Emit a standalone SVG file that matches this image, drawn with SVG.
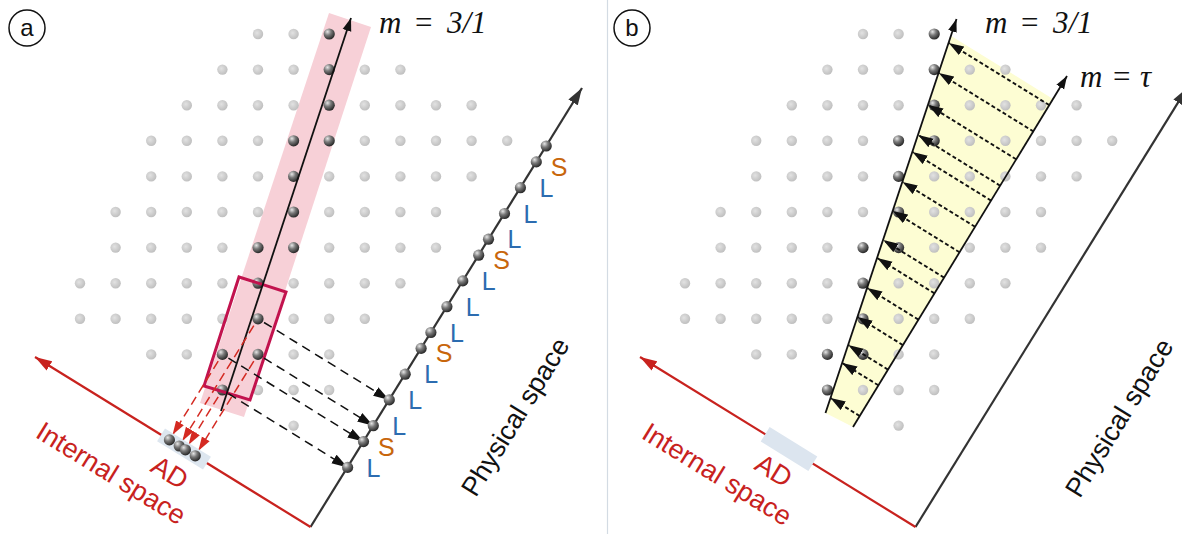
<svg xmlns="http://www.w3.org/2000/svg" xmlns:xlink="http://www.w3.org/1999/xlink" width="1182" height="534" viewBox="0 0 1182 534">
<style>
.sans{font-family:"Liberation Sans",Arial,sans-serif}
.serif{font-family:"Liberation Serif","Times New Roman",serif;font-style:italic;font-size:31px;fill:#111}
.lab{font-family:"Liberation Sans",Arial,sans-serif;font-size:25px;text-anchor:middle}
.L{fill:#2c6cb0}
.S{fill:#c8660c}
.red{fill:#c8221e}
.ax{fill:none;stroke-width:2.2}
.dashk{fill:none;stroke:#111;stroke-width:1.5;stroke-dasharray:9 6}
.dashr{fill:none;stroke:#d42a22;stroke-width:1.5;stroke-dasharray:9 5}
.dotb{fill:none;stroke:#111;stroke-width:1.9;stroke-dasharray:4 2.5}
</style>
<defs>
<radialGradient id="gl" cx="0.4" cy="0.4" r="0.65">
<stop offset="0" stop-color="#e2e2e2"/><stop offset="1" stop-color="#bdbdbd"/>
</radialGradient>
<radialGradient id="gd" cx="0.35" cy="0.3" r="0.7">
<stop offset="0" stop-color="#e6e6e6"/><stop offset="0.45" stop-color="#7a7a7a"/><stop offset="1" stop-color="#2a2a2a"/>
</radialGradient>
<circle id="L" r="5.2" fill="url(#gl)"/>
<circle id="D" r="5.6" fill="url(#gd)"/>
<marker id="mk" markerUnits="userSpaceOnUse" markerWidth="13" markerHeight="10" refX="13" refY="5" orient="auto"><path d="M0,0.5 L13,5 L0,9.5 z" fill="#111"/></marker>
<marker id="mkd" markerUnits="userSpaceOnUse" markerWidth="16" markerHeight="11" refX="16" refY="5.5" orient="auto"><path d="M0,0.5 L16,5.5 L0,10.5 z" fill="#111"/></marker>
<marker id="mg" markerUnits="userSpaceOnUse" markerWidth="17" markerHeight="12" refX="17" refY="6" orient="auto"><path d="M0,0.5 L17,6 L0,11.5 z" fill="#333"/></marker>
<marker id="mr" markerUnits="userSpaceOnUse" markerWidth="17" markerHeight="12" refX="17" refY="6" orient="auto"><path d="M0,0.5 L17,6 L0,11.5 z" fill="#c8221e"/></marker>
<marker id="mrd" markerUnits="userSpaceOnUse" markerWidth="14" markerHeight="10" refX="14" refY="5" orient="auto"><path d="M0,0.5 L14,5 L0,9.5 z" fill="#d42a22"/></marker>
<marker id="mb" markerUnits="userSpaceOnUse" markerWidth="15" markerHeight="11" refX="15" refY="5.5" orient="auto"><path d="M0,0.5 L15,5.5 L0,10.5 z" fill="#111"/></marker>
</defs>
<rect width="1182" height="534" fill="#fff"/>
<line x1="607.5" y1="0" x2="607.5" y2="534" stroke="#d3dbe3" stroke-width="1.2"/>

<!-- Panel a -->
<g id="label-a"><circle cx="27" cy="28" r="18" fill="#fff" stroke="#111" stroke-width="1.5"/><text x="27" y="36" class="sans" font-size="24" text-anchor="middle" fill="#111">a</text></g>
<g id="strip-a"><polygon points="329,13 371,27 244,417 200,403" fill="#f7d0d7"/></g>
<g id="lattice-a">
<use href="#L" x="258" y="34"/><use href="#L" x="293.6" y="34"/><use href="#D" x="329.2" y="34"/>
<use href="#L" x="222.4" y="69.6"/><use href="#L" x="258" y="69.6"/><use href="#L" x="293.6" y="69.6"/><use href="#D" x="329.2" y="69.6"/><use href="#L" x="364.8" y="69.6"/><use href="#L" x="400.4" y="69.6"/>
<use href="#L" x="186.8" y="105.2"/><use href="#L" x="222.4" y="105.2"/><use href="#L" x="258" y="105.2"/><use href="#L" x="293.6" y="105.2"/><use href="#D" x="329.2" y="105.2"/><use href="#L" x="364.8" y="105.2"/><use href="#L" x="400.4" y="105.2"/><use href="#L" x="436" y="105.2"/><use href="#L" x="471.6" y="105.2"/>
<use href="#L" x="151.2" y="140.8"/><use href="#L" x="186.8" y="140.8"/><use href="#L" x="222.4" y="140.8"/><use href="#L" x="258" y="140.8"/><use href="#D" x="293.6" y="140.8"/><use href="#D" x="329.2" y="140.8"/><use href="#L" x="364.8" y="140.8"/><use href="#L" x="400.4" y="140.8"/><use href="#L" x="436" y="140.8"/><use href="#L" x="471.6" y="140.8"/><use href="#L" x="507.2" y="140.8"/>
<use href="#L" x="151.2" y="176.4"/><use href="#L" x="186.8" y="176.4"/><use href="#L" x="222.4" y="176.4"/><use href="#L" x="258" y="176.4"/><use href="#D" x="293.6" y="176.4"/><use href="#L" x="329.2" y="176.4"/><use href="#L" x="364.8" y="176.4"/><use href="#L" x="400.4" y="176.4"/><use href="#L" x="436" y="176.4"/><use href="#L" x="471.6" y="176.4"/>
<use href="#L" x="115.6" y="212"/><use href="#L" x="151.2" y="212"/><use href="#L" x="186.8" y="212"/><use href="#L" x="222.4" y="212"/><use href="#L" x="258" y="212"/><use href="#D" x="293.6" y="212"/><use href="#L" x="329.2" y="212"/><use href="#L" x="364.8" y="212"/><use href="#L" x="400.4" y="212"/><use href="#L" x="436" y="212"/>
<use href="#L" x="115.6" y="247.6"/><use href="#L" x="151.2" y="247.6"/><use href="#L" x="186.8" y="247.6"/><use href="#L" x="222.4" y="247.6"/><use href="#D" x="258" y="247.6"/><use href="#D" x="293.6" y="247.6"/><use href="#L" x="329.2" y="247.6"/><use href="#L" x="364.8" y="247.6"/><use href="#L" x="400.4" y="247.6"/><use href="#L" x="436" y="247.6"/>
<use href="#L" x="80" y="283.2"/><use href="#L" x="115.6" y="283.2"/><use href="#L" x="151.2" y="283.2"/><use href="#L" x="186.8" y="283.2"/><use href="#L" x="222.4" y="283.2"/><use href="#D" x="258" y="283.2"/><use href="#L" x="293.6" y="283.2"/><use href="#L" x="329.2" y="283.2"/><use href="#L" x="364.8" y="283.2"/><use href="#L" x="400.4" y="283.2"/>
<use href="#L" x="80" y="318.8"/><use href="#L" x="115.6" y="318.8"/><use href="#L" x="151.2" y="318.8"/><use href="#L" x="186.8" y="318.8"/><use href="#L" x="222.4" y="318.8"/><use href="#D" x="258" y="318.8"/><use href="#L" x="293.6" y="318.8"/><use href="#L" x="329.2" y="318.8"/><use href="#L" x="364.8" y="318.8"/>
<use href="#L" x="151.2" y="354.4"/><use href="#L" x="186.8" y="354.4"/><use href="#D" x="222.4" y="354.4"/><use href="#D" x="258" y="354.4"/><use href="#L" x="293.6" y="354.4"/><use href="#L" x="329.2" y="354.4"/>
<use href="#D" x="222.4" y="390"/><use href="#L" x="258" y="390"/><use href="#L" x="293.6" y="390"/><use href="#L" x="329.2" y="390"/>
<use href="#L" x="293.6" y="425.6"/>
</g>
<g id="window-a"><polygon points="239,277 286,292 250,400 204,386" fill="none" stroke="#c2134e" stroke-width="3" stroke-linejoin="miter"/></g>
<g id="connectors-a">
<line x1="221" y1="411" x2="351" y2="18" stroke="#111" stroke-width="1.8" marker-end="url(#mk)"/>
<line class="dashk" x1="264" y1="322.5" x2="389.3" y2="399.9" marker-end="url(#mkd)"/>
<line class="dashk" x1="264" y1="358.1" x2="373.3" y2="425.7" marker-end="url(#mkd)"/>
<line class="dashk" x1="228.4" y1="358.1" x2="363.5" y2="441.6" marker-end="url(#mkd)"/>
<line class="dashk" x1="228.4" y1="393.7" x2="347.6" y2="467.4" marker-end="url(#mkd)"/>
<line class="dashr" x1="218.2" y1="361.2" x2="172.6" y2="434.8" marker-end="url(#mrd)"/>
<line class="dashr" x1="253.8" y1="325.6" x2="182.4" y2="440.9" marker-end="url(#mrd)"/>
<line class="dashr" x1="218.2" y1="396.8" x2="188.6" y2="444.7" marker-end="url(#mrd)"/>
<line class="dashr" x1="253.8" y1="361.2" x2="198.4" y2="450.7" marker-end="url(#mrd)"/>
<line class="ax" stroke="#333" x1="310.5" y1="527" x2="582" y2="88" marker-end="url(#mg)"/>
<line class="ax" stroke="#c8221e" x1="310.5" y1="527" x2="35" y2="357" marker-end="url(#mr)"/>
</g>
<g id="ad-a">
<rect x="-27" y="-7.5" width="54" height="15" fill="#dde6ef" transform="translate(184,449) rotate(31.7)"/>
<use href="#D" x="169.4" y="439.9"/><use href="#D" x="179.2" y="446"/><use href="#D" x="185.4" y="449.8"/><use href="#D" x="195.2" y="455.8"/>
</g>
<g id="physical-points-a">
<use href="#D" x="347.6" y="467.4"/><use href="#D" x="363.5" y="441.6"/><use href="#D" x="373.3" y="425.7"/><use href="#D" x="389.3" y="399.9"/><use href="#D" x="405.2" y="374.2"/><use href="#D" x="421.1" y="348.4"/><use href="#D" x="430.9" y="332.5"/><use href="#D" x="446.9" y="306.7"/><use href="#D" x="462.8" y="280.9"/><use href="#D" x="478.7" y="255.2"/><use href="#D" x="488.5" y="239.2"/><use href="#D" x="504.5" y="213.5"/><use href="#D" x="520.4" y="187.7"/><use href="#D" x="536.3" y="161.9"/><use href="#D" x="546.2" y="146"/>
</g>
<g id="tiles-a">
<text class="lab L" x="373.5" y="476.5">L</text>
<text class="lab S" x="386.4" y="455.7">S</text>
<text class="lab L" x="399.3" y="434.8">L</text>
<text class="lab L" x="415.2" y="409.1">L</text>
<text class="lab L" x="431.2" y="383.3">L</text>
<text class="lab S" x="444" y="362.4">S</text>
<text class="lab L" x="456.9" y="341.6">L</text>
<text class="lab L" x="472.8" y="315.8">L</text>
<text class="lab L" x="488.8" y="290.1">L</text>
<text class="lab S" x="501.6" y="269.2">S</text>
<text class="lab L" x="514.5" y="248.4">L</text>
<text class="lab L" x="530.4" y="222.6">L</text>
<text class="lab L" x="546.4" y="196.8">L</text>
<text class="lab S" x="559.2" y="176">S</text>
</g>
<g id="texts-a">
<text class="serif" y="33"><tspan x="379">m</tspan><tspan x="415" font-style="normal">=</tspan><tspan x="447">3/1</tspan></text>
<text class="sans" font-size="27" fill="#111" text-anchor="middle" transform="translate(523,421.7) rotate(-58.3)">Physical space</text>
<text class="sans red" font-size="27" text-anchor="middle" transform="translate(106.3,481) rotate(31.7)">Internal space</text>
<text class="sans red" font-size="27" text-anchor="middle" transform="translate(164.9,480.3) rotate(31.7)">AD</text>
</g>

<!-- Panel b -->
<g id="label-b"><circle cx="632" cy="28" r="18" fill="#fff" stroke="#111" stroke-width="1.5"/><text x="632" y="36" class="sans" font-size="24" text-anchor="middle" fill="#111">b</text></g>
<g id="region-b"><polygon points="951.2,36 1053,98.9 853,427 825.5,413" fill="#fdfdd3"/></g>
<g id="lattice-b"><use href="#lattice-a" x="605" y="0"/></g>
<g id="connectors-b">
<line x1="825.5" y1="413" x2="956.5" y2="19" stroke="#111" stroke-width="1.8" marker-end="url(#mk)"/>
<line x1="853" y1="427" x2="1067" y2="76" stroke="#111" stroke-width="1.8" marker-end="url(#mk)"/>
<line class="dotb" x1="1049.3" y1="105.1" x2="948.8" y2="43" marker-end="url(#mb)"/>
<line class="dotb" x1="1033.7" y1="131.6" x2="938.8" y2="73" marker-end="url(#mb)"/>
<line class="dotb" x1="1016.2" y1="159.3" x2="928.2" y2="105" marker-end="url(#mb)"/>
<line class="dotb" x1="1000.2" y1="185.7" x2="918.2" y2="135" marker-end="url(#mb)"/>
<line class="dotb" x1="991.1" y1="200.6" x2="912.5" y2="152" marker-end="url(#mb)"/>
<line class="dotb" x1="975.1" y1="226.8" x2="902.5" y2="182" marker-end="url(#mb)"/>
<line class="dotb" x1="959.6" y1="252.3" x2="892.8" y2="211" marker-end="url(#mb)"/>
<line class="dotb" x1="944.1" y1="277.6" x2="883.2" y2="240" marker-end="url(#mb)"/>
<line class="dotb" x1="934.5" y1="293.4" x2="877.2" y2="258" marker-end="url(#mb)"/>
<line class="dotb" x1="918.4" y1="319.6" x2="867.2" y2="288" marker-end="url(#mb)"/>
<line class="dotb" x1="902.9" y1="345.1" x2="857.5" y2="317" marker-end="url(#mb)"/>
<line class="dotb" x1="888" y1="369.6" x2="848.2" y2="345" marker-end="url(#mb)"/>
<line class="dotb" x1="878.4" y1="385.3" x2="842.2" y2="363" marker-end="url(#mb)"/>
<line class="dotb" x1="859.7" y1="416" x2="830.5" y2="398" marker-end="url(#mb)"/>
<line class="ax" stroke="#333" x1="915.5" y1="527" x2="1187" y2="88" marker-end="url(#mg)"/>
<line class="ax" stroke="#c8221e" x1="915.5" y1="527" x2="640" y2="357" marker-end="url(#mr)"/>
</g>
<g id="ad-b"><rect x="-28" y="-8.5" width="56" height="17" fill="#dce5ef" transform="translate(789,449) rotate(31.7)"/></g>
<g id="texts-b">
<text class="serif" y="33"><tspan x="985">m</tspan><tspan x="1021" font-style="normal">=</tspan><tspan x="1053">3/1</tspan></text>
<text class="serif" y="87"><tspan x="1080">m</tspan><tspan x="1113" font-style="normal">=</tspan><tspan x="1140">τ</tspan></text>
<text class="sans" font-size="27" fill="#111" text-anchor="middle" transform="translate(1127,422.7) rotate(-58.3)">Physical space</text>
<text class="sans red" font-size="27" text-anchor="middle" transform="translate(712.3,482) rotate(31.7)">Internal space</text>
<text class="sans red" font-size="27" text-anchor="middle" transform="translate(768.9,478.3) rotate(31.7)">AD</text>
</g>
</svg>
